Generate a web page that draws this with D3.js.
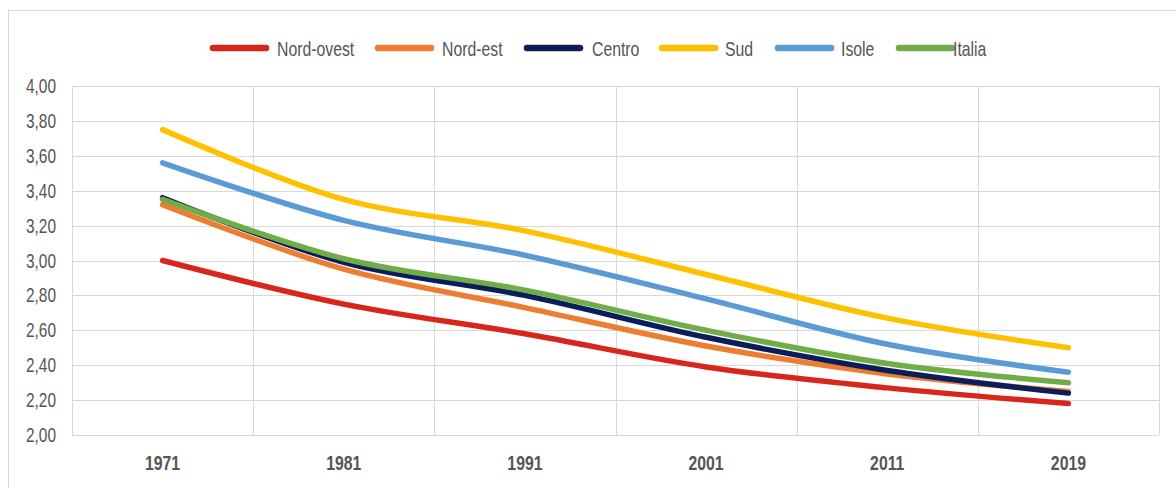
<!DOCTYPE html>
<html>
<head>
<meta charset="utf-8">
<script src="https://cdn.jsdelivr.net/npm/d3@7"></script>
<style>
  html, body { margin: 0; padding: 0; background: #ffffff; }
  svg { display: block; }
  text { font-family: "Liberation Sans", Arial, sans-serif; }
</style>
</head>
<body>
<svg id="chart" width="1176" height="488"></svg>
<script>
// ---- data ----
const years = ["1971", "1981", "1991", "2001", "2011", "2019"];
const seriesNames = ["Nord-ovest", "Nord-est", "Centro", "Sud", "Isole", "Italia"];
const nordOvest = [3.00, 2.75, 2.58, 2.39, 2.27, 2.18];
const nordEst   = [3.32, 2.95, 2.73, 2.51, 2.35, 2.25];
const centro    = [3.36, 2.99, 2.80, 2.56, 2.37, 2.24];
const sud       = [3.75, 3.35, 3.17, 2.92, 2.67, 2.50];
const isole     = [3.56, 3.23, 3.03, 2.78, 2.52, 2.36];
const italia    = [3.35, 3.01, 2.83, 2.60, 2.41, 2.30];
const yTicks = [2.0, 2.2, 2.4, 2.6, 2.8, 3.0, 3.2, 3.4, 3.6, 3.8, 4.0];
const colors = ["#d9261c", "#ed7d31", "#0b1e5b", "#ffc000", "#5b9bd5", "#70ad47"];

const seriesValues = [nordOvest, nordEst, centro, sud, isole, italia];
const series = seriesNames.map((n, i) => ({ name: n, values: seriesValues[i], color: colors[i] }));

// ---- layout ----
const svg = d3.select("#chart");
const plot = { left: 72, right: 1159, top: 86, bottom: 435 };
const sx = 0.79; // horizontal text compression
const textColor = "#555555";

const locale = d3.formatLocale({ decimal: ",", thousands: ".", grouping: [3], currency: ["", "€"] });
const fmt = locale.format(".2f");

const xBand = d3.scaleBand().domain(years).range([plot.left, plot.right]).paddingInner(0).paddingOuter(0);
const xc = d => xBand(d) + xBand.bandwidth() / 2;
const y = d3.scaleLinear().domain([2, 4]).range([plot.bottom, plot.top]);

// outer border
svg.append("rect")
  .attr("x", 8.5).attr("y", 10.5).attr("width", 1200).attr("height", 600)
  .attr("fill", "none").attr("stroke", "#d9d9d9").attr("stroke-width", 1);

// horizontal gridlines
const grid = svg.append("g");
grid.selectAll("line.h").data(yTicks).join("line")
  .attr("x1", plot.left).attr("x2", plot.right)
  .attr("y1", d => Math.round(y(d)) + 0.5).attr("y2", d => Math.round(y(d)) + 0.5)
  .attr("stroke", "#d9d9d9").attr("stroke-width", 1);

// vertical gridlines at band edges
const edges = years.map(d => xBand(d)).concat([plot.right]);
grid.selectAll("line.v").data(edges).join("line")
  .attr("x1", d => Math.round(d) + 0.5).attr("x2", d => Math.round(d) + 0.5)
  .attr("y1", plot.top).attr("y2", plot.bottom)
  .attr("stroke", "#d9d9d9").attr("stroke-width", 1);

// y tick labels
svg.append("g").selectAll("text").data(yTicks).join("text")
  .attr("transform", d => `translate(56,${y(d) + 7}) scale(${sx},1)`)
  .attr("text-anchor", "end")
  .attr("font-size", 19.5)
  .attr("fill", textColor)
  .text(d => fmt(d));

// x tick labels
svg.append("g").selectAll("text").data(years).join("text")
  .attr("transform", d => `translate(${xc(d)},${470}) scale(${sx},1)`)
  .attr("text-anchor", "middle")
  .attr("font-size", 20)
  .attr("font-weight", "bold")
  .attr("fill", textColor)
  .text(d => d);

// lines
const line = d3.line()
  .x((v, i) => xc(years[i]))
  .y(v => y(v))
  .curve(d3.curveCatmullRom.alpha(0.5));

svg.append("g").selectAll("path").data(series).join("path")
  .attr("d", s => line(s.values))
  .attr("fill", "none")
  .attr("stroke", s => s.color)
  .attr("stroke-width", 5.5)
  .attr("stroke-linecap", "round")
  .attr("stroke-linejoin", "round");

// legend
const legendX = [213, 378, 527, 662, 778, 899];
const legendTextX = [277, 442, 592, 725, 841, 953];
const legend = svg.append("g");
series.forEach((s, i) => {
  legend.append("line")
    .attr("x1", legendX[i]).attr("x2", legendX[i] + 53)
    .attr("y1", 48).attr("y2", 48)
    .attr("stroke", s.color).attr("stroke-width", 6.5)
    .attr("stroke-linecap", "round");
  legend.append("text")
    .attr("transform", `translate(${legendTextX[i]},${56}) scale(${sx},1)`)
    .attr("font-size", 20)
    .attr("fill", textColor)
    .text(s.name);
});
</script>
</body>
</html>
